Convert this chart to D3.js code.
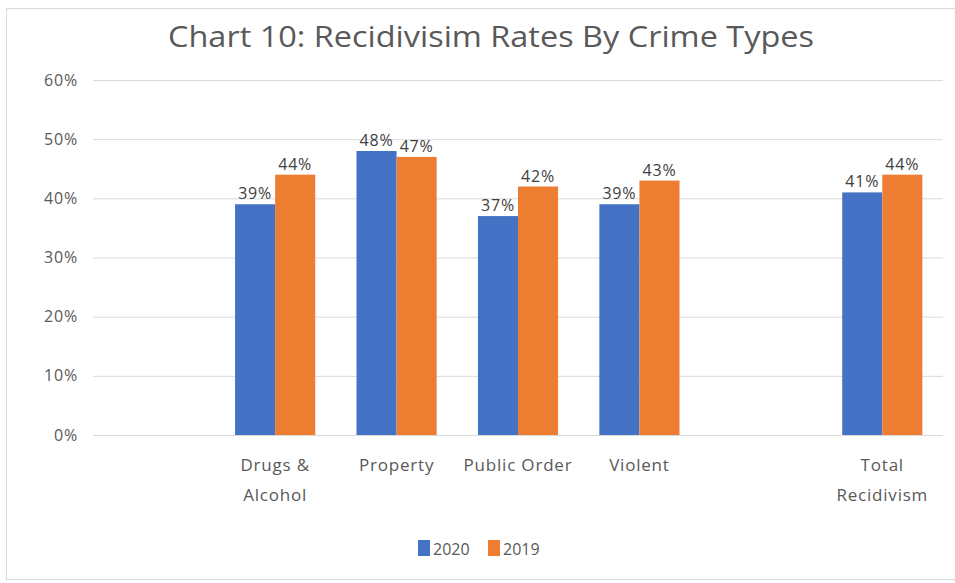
<!DOCTYPE html>
<html lang="en">
<head>
  <meta charset="UTF-8">
  <title>Recidivism Rates By Crime Types</title>
  <script src="https://d3js.org/d3.v7.min.js"></script>
  <style>
    body { margin: 0; background: #fff; }
    text { font-family: "Open Sans", "Noto Sans", sans-serif; fill: #595959; }
  </style>
</head>
<body>
  <svg width="955" height="583"></svg>
  <script>
    // categories (blank slots keep the gaps from the original)
    const categories = ["", "Drugs &\nAlcohol", "Property", "Public Order", "Violent", " ", "Total\nRecidivism"];
    const series = ["2020", "2019"];
    const values2020 = [null, 39, 48, 37, 39, null, 41];
    const values2019 = [null, 44, 47, 42, 43, null, 44];
    const yTicks = [0, 10, 20, 30, 40, 50, 60];
    const colors = ["#4472c4", "#ed7d31"];

    const svg = d3.select("svg");

    // chart frame
    svg.append("rect")
        .attr("x", 6.5).attr("y", 8.5)
        .attr("width", 960).attr("height", 571)
        .attr("fill", "none")
        .attr("stroke", "#d9d9d9");

    const margin = {left: 93, right: 12, top: 80, bottom: 148};
    const width = 955 - margin.left - margin.right;
    const height = 583 - margin.top - margin.bottom;

    const x = d3.scaleBand().domain(categories).range([margin.left, margin.left + width]).paddingInner(0.34).paddingOuter(0.17);
    const xs = d3.scaleBand().domain(series).range([0, x.bandwidth()]);
    const y = d3.scaleLinear().domain([0, 60]).range([margin.top + height, margin.top]);

    // title
    svg.append("text")
        .attr("x", 491).attr("y", 47)
        .attr("text-anchor", "middle")
        .attr("textLength", 646)
        .attr("lengthAdjust", "spacingAndGlyphs")
        .style("font-size", "29px")
        .text("Chart 10: Recidivisim Rates By Crime Types");

    // gridlines + y labels
    const yAxis = d3.axisLeft(y).tickValues(yTicks).tickSize(-width).tickFormat(d => d + "%").tickPadding(15);
    const gy = svg.append("g").attr("transform", `translate(${margin.left},0)`).call(yAxis);
    gy.select(".domain").remove();
    gy.selectAll("line").attr("stroke", "#d9d9d9");
    gy.selectAll("text").style("font-size", "16px").style("letter-spacing", "0.8px").attr("fill", "#595959");

    // bars
    const data = [values2020, values2019];
    data.forEach((vals, si) => {
      const g = svg.append("g");
      const pts = categories.map((c, i) => ({c, v: vals[i]})).filter(d => d.v != null);
      g.selectAll("rect").data(pts).enter().append("rect")
          .attr("x", d => x(d.c) + xs(series[si]))
          .attr("y", d => y(d.v))
          .attr("width", xs.bandwidth())
          .attr("height", d => y(0) - y(d.v))
          .attr("fill", colors[si]);
      g.selectAll("text").data(pts).enter().append("text")
          .attr("x", d => x(d.c) + xs(series[si]) + xs.bandwidth() / 2)
          .attr("y", d => y(d.v) - 5)
          .attr("text-anchor", "middle")
          .style("font-size", "16px")
          .style("letter-spacing", "0.8px")
          .style("fill", "#404040")
          .text(d => d.v + "%");
    });

    // x labels
    const xl = svg.append("g");
    categories.forEach(c => {
      const lines = c.split("\n");
      const t = xl.append("text")
          .attr("x", x(c) + x.bandwidth() / 2)
          .attr("y", 471)
          .attr("text-anchor", "middle")
          .style("font-size", "17px")
          .style("letter-spacing", "0.8px");
      lines.forEach((ln, i) => {
        t.append("tspan").attr("x", x(c) + x.bandwidth() / 2).attr("dy", i === 0 ? 0 : 30).text(ln.trim());
      });
    });

    // legend
    const legend = svg.append("g").attr("transform", "translate(418,540)");
    series.forEach((s, i) => {
      const lg = legend.append("g").attr("transform", `translate(${i * 70},0)`);
      lg.append("rect").attr("width", 12).attr("height", 16).attr("fill", colors[i]);
      lg.append("text").attr("x", 15).attr("y", 15).style("font-size", "16px").text(s);
    });
  </script>
</body>
</html>
